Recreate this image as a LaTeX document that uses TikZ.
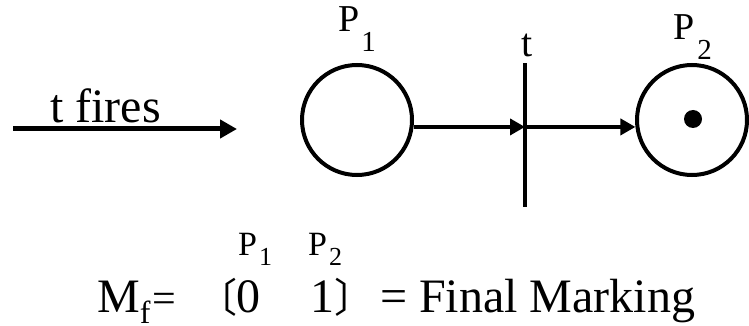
\documentclass[tikz,border=0pt]{standalone}
\usepackage{fontspec}
\setmainfont{Liberation Serif}
\newfontfamily\cjk{Noto Sans CJK SC}
\usetikzlibrary{arrows.meta}
\newcommand{\fsz}[1]{\fontsize{#1}{#1}\selectfont}
\begin{document}
\begin{tikzpicture}[x=1pt,y=-1pt,
  place/.style={draw,circle,line width=4pt,minimum size=110pt,inner sep=0pt},
  arr/.style={line width=4pt,-{Triangle[length=15pt,width=16pt]}},
  bigarr/.style={line width=5pt,-{Triangle[length=17pt,width=18pt]}},
  txt/.style={inner sep=0pt,anchor=base west},
  bar/.style={fill,inner sep=0pt,minimum width=4.5pt,minimum height=144pt}]
\useasboundingbox (0,0) rectangle (749,326);
% places and transition
\node[place] (p1) at (357,120) {};
\node[place] (p2) at (692,120) {};
\node[circle,fill,inner sep=0pt,minimum size=18pt] (tok) at (693,119) {};
\node[bar] (t) at (525,135) {};
% labels
\node[txt] (p1lbl) at (338,32) {\fsz{38}P\kern2pt\raisebox{-20pt}{\fsz{29}1}};
\node[txt] (p2lbl) at (673,40) {\fsz{38}P\kern3pt\raisebox{-20pt}{\fsz{29}2}};
\node[txt,anchor=base] (tlbl) at (527,57) {\fsz{40}t};
% arcs
\draw[arr] (p1.-7) -- (p1.-7 -| t);
\draw[arr] (p1.-7 -| t) -- (p2.187);
% t fires
\coordinate (fs) at (13,129);
\coordinate (fe) at (237,129);
\draw[bigarr] (fs) -- (fe);
\node[txt] (fires) at (50,123) {\fsz{48}t fires};
% marking
\node[txt] (lp1) at (238,255) {\fsz{34}P\kern2pt\raisebox{-10pt}{\fsz{26}1}};
\node[txt] (lp2) at (308,255) {\fsz{34}P\kern2pt\raisebox{-10pt}{\fsz{26}2}};
\node[txt] (mf) at (97,312) {\fsz{48}M\raisebox{-11pt}{\fsz{32}f}};
\node[txt] (eq1) at (152,312) {\fsz{42}=};
\node[inner sep=0pt] (lbr) at (217,297) {\cjk\fsz{40}〔};
\node[txt] (v0) at (236,312) {\fsz{48}0};
\node[txt] (v1) at (310,312) {\fsz{48}1};
\node[inner sep=0pt] (rbr) at (354,297) {\cjk\fsz{40}〕};
\node[txt] (fm) at (380,312) {\fsz{48}= Final Marking};
\end{tikzpicture}
\end{document}
